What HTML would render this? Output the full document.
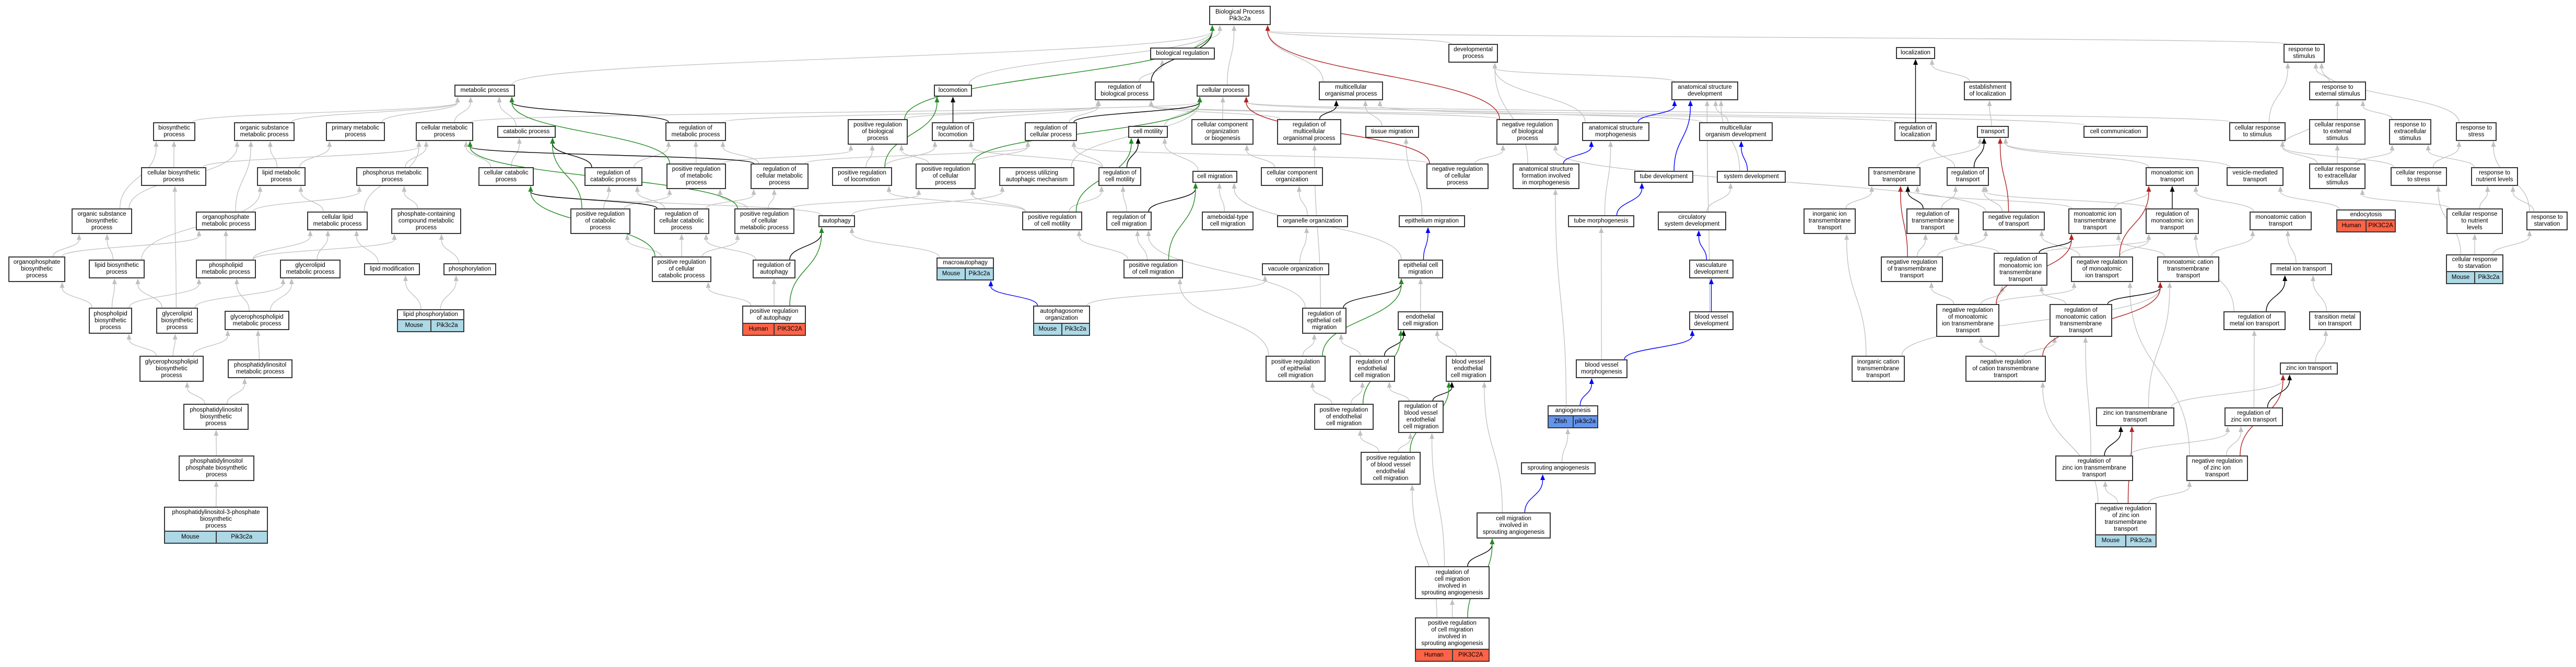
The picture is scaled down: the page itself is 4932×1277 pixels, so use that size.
<!DOCTYPE html>
<html><head><meta charset="utf-8">
<style>
html,body{margin:0;padding:0;background:#fff;}
#wrap{position:relative;width:4932px;height:1277px;overflow:hidden;background:#fff;font-family:"Liberation Sans",Arial,sans-serif;}
svg{position:absolute;left:0;top:0;}
.n{position:absolute;box-sizing:border-box;border:2px solid #383838;background:#fff;display:flex;align-items:center;justify-content:center;text-align:center;font-size:11.5px;line-height:13px;color:#000;white-space:nowrap;z-index:2;}
.s{flex-direction:column;align-items:stretch;}
.s .t{flex:1;display:flex;align-items:center;justify-content:center;}
.s .r{height:21px;display:flex;border-top:2px solid #383838;}
.s .r span{flex:1;display:flex;align-items:center;justify-content:center;}
.s .r span+span{border-left:2px solid #383838;}
.m{background:#add8e6;} .h{background:#ff6347;} .z{background:#6495ed;}
</style></head><body>
<div id="wrap">
<svg id="sv" width="4932" height="1277" viewBox="0 0 4932 1277"></svg>

<div class=n id=BP style="left:2315px;top:11px;width:118px;height:37px">Biological Process<br>Pik3c2a</div>
<div class=n id=BR style="left:2202px;top:91px;width:124px;height:23px">biological regulation</div>
<div class=n id=DEV style="left:2773px;top:84px;width:95px;height:36px">developmental<br>process</div>
<div class=n id=LOC style="left:3630px;top:90px;width:75px;height:23px">localization</div>
<div class=n id=RS style="left:4372px;top:84px;width:79px;height:36px">response to<br>stimulus</div>
<div class=n id=MP style="left:870px;top:162px;width:116px;height:23px">metabolic process</div>
<div class=n id=LCM style="left:1788px;top:162px;width:73px;height:23px">locomotion</div>
<div class=n id=RBP style="left:2096px;top:156px;width:114px;height:36px">regulation of<br>biological process</div>
<div class=n id=CP style="left:2291px;top:162px;width:101px;height:23px">cellular process</div>
<div class=n id=MOP style="left:2525px;top:156px;width:123px;height:36px">multicellular<br>organismal process</div>
<div class=n id=ASD style="left:3200px;top:156px;width:128px;height:36px">anatomical structure<br>development</div>
<div class=n id=EL style="left:3760px;top:156px;width:91px;height:36px">establishment<br>of localization</div>
<div class=n id=RES style="left:4421px;top:156px;width:109px;height:36px">response to<br>external stimulus</div>
<div class=n id=BSP style="left:293px;top:234px;width:81px;height:36px">biosynthetic<br>process</div>
<div class=n id=OSMP style="left:448px;top:234px;width:116px;height:36px">organic substance<br>metabolic process</div>
<div class=n id=PMP style="left:624px;top:234px;width:113px;height:36px">primary metabolic<br>process</div>
<div class=n id=CMP style="left:796px;top:234px;width:110px;height:36px">cellular metabolic<br>process</div>
<div class=n id=CAT style="left:952px;top:241px;width:112px;height:23px">catabolic process</div>
<div class=n id=RMP style="left:1274px;top:234px;width:116px;height:36px">regulation of<br>metabolic process</div>
<div class=n id=PRBP style="left:1623px;top:228px;width:115px;height:49px">positive regulation<br>of biological<br>process</div>
<div class=n id=RLOC style="left:1784px;top:234px;width:81px;height:36px">regulation of<br>locomotion</div>
<div class=n id=RCP style="left:1962px;top:234px;width:100px;height:36px">regulation of<br>cellular process</div>
<div class=n id=CMOT style="left:2160px;top:241px;width:76px;height:23px">cell motility</div>
<div class=n id=CCOB style="left:2281px;top:228px;width:119px;height:49px">cellular component<br>organization<br>or biogenesis</div>
<div class=n id=RMOP style="left:2445px;top:228px;width:123px;height:49px">regulation of<br>multicellular<br>organismal process</div>
<div class=n id=TM style="left:2614px;top:241px;width:103px;height:23px">tissue migration</div>
<div class=n id=NRBP style="left:2865px;top:228px;width:119px;height:49px">negative regulation<br>of biological<br>process</div>
<div class=n id=ASM style="left:3029px;top:234px;width:129px;height:36px">anatomical structure<br>morphogenesis</div>
<div class=n id=MOD style="left:3253px;top:234px;width:141px;height:36px">multicellular<br>organism development</div>
<div class=n id=RLZ style="left:3627px;top:234px;width:81px;height:36px">regulation of<br>localization</div>
<div class=n id=TR style="left:3785px;top:241px;width:61px;height:23px">transport</div>
<div class=n id=CC style="left:3989px;top:241px;width:123px;height:23px">cell communication</div>
<div class=n id=CRS style="left:4268px;top:234px;width:108px;height:36px">cellular response<br>to stimulus</div>
<div class=n id=CRES style="left:4421px;top:228px;width:108px;height:49px">cellular response<br>to external<br>stimulus</div>
<div class=n id=REXS style="left:4574px;top:228px;width:81px;height:49px">response to<br>extracellular<br>stimulus</div>
<div class=n id=RST style="left:4702px;top:234px;width:78px;height:36px">response to<br>stress</div>
<div class=n id=CBP style="left:270px;top:320px;width:125px;height:36px">cellular biosynthetic<br>process</div>
<div class=n id=LMP style="left:492px;top:320px;width:93px;height:36px">lipid metabolic<br>process</div>
<div class=n id=PHMP style="left:682px;top:320px;width:138px;height:36px">phosphorus metabolic<br>process</div>
<div class=n id=CCP style="left:916px;top:320px;width:106px;height:36px">cellular catabolic<br>process</div>
<div class=n id=RCAT style="left:1119px;top:320px;width:111px;height:36px">regulation of<br>catabolic process</div>
<div class=n id=PRMP style="left:1276px;top:313px;width:114px;height:49px">positive regulation<br>of metabolic<br>process</div>
<div class=n id=RCMP style="left:1437px;top:313px;width:111px;height:49px">regulation of<br>cellular metabolic<br>process</div>
<div class=n id=PRL style="left:1593px;top:320px;width:115px;height:36px">positive regulation<br>of locomotion</div>
<div class=n id=PRCP style="left:1753px;top:313px;width:115px;height:49px">positive regulation<br>of cellular<br>process</div>
<div class=n id=PUAM style="left:1913px;top:320px;width:144px;height:36px">process utilizing<br>autophagic mechanism</div>
<div class=n id=RCMOT style="left:2103px;top:320px;width:82px;height:36px">regulation of<br>cell motility</div>
<div class=n id=CMIG style="left:2283px;top:327px;width:86px;height:23px">cell migration</div>
<div class=n id=CCO style="left:2414px;top:320px;width:119px;height:36px">cellular component<br>organization</div>
<div class=n id=NRCP style="left:2731px;top:313px;width:119px;height:49px">negative regulation<br>of cellular<br>process</div>
<div class=n id=ASFM style="left:2896px;top:313px;width:128px;height:49px">anatomical structure<br>formation involved<br>in morphogenesis</div>
<div class=n id=TD style="left:3129px;top:327px;width:113px;height:23px">tube development</div>
<div class=n id=SD style="left:3287px;top:327px;width:132px;height:23px">system development</div>
<div class=n id=TMT style="left:3577px;top:320px;width:100px;height:36px">transmembrane<br>transport</div>
<div class=n id=RTR style="left:3727px;top:320px;width:81px;height:36px">regulation of<br>transport</div>
<div class=n id=MIT style="left:4108px;top:320px;width:102px;height:36px">monoatomic ion<br>transport</div>
<div class=n id=VMT style="left:4263px;top:320px;width:109px;height:36px">vesicle-mediated<br>transport</div>
<div class=n id=CREXS style="left:4421px;top:313px;width:108px;height:49px">cellular response<br>to extracellular<br>stimulus</div>
<div class=n id=CRST style="left:4577px;top:320px;width:108px;height:36px">cellular response<br>to stress</div>
<div class=n id=RNL style="left:4731px;top:320px;width:90px;height:36px">response to<br>nutrient levels</div>
<div class=n id=OSBP style="left:137px;top:399px;width:116px;height:49px">organic substance<br>biosynthetic<br>process</div>
<div class=n id=OPMP style="left:375px;top:405px;width:115px;height:36px">organophosphate<br>metabolic process</div>
<div class=n id=CLMP style="left:588px;top:405px;width:116px;height:36px">cellular lipid<br>metabolic process</div>
<div class=n id=PCCMP style="left:749px;top:399px;width:134px;height:49px">phosphate-containing<br>compound metabolic<br>process</div>
<div class=n id=PRCAT style="left:1092px;top:399px;width:115px;height:49px">positive regulation<br>of catabolic<br>process</div>
<div class=n id=RCCP style="left:1252px;top:399px;width:106px;height:49px">regulation of<br>cellular catabolic<br>process</div>
<div class=n id=PRCMP style="left:1406px;top:399px;width:115px;height:49px">positive regulation<br>of cellular<br>metabolic process</div>
<div class=n id=AUT style="left:1567px;top:412px;width:70px;height:23px">autophagy</div>
<div class=n id=PRCMOT style="left:1957px;top:405px;width:115px;height:36px">positive regulation<br>of cell motility</div>
<div class=n id=RCMIG style="left:2118px;top:405px;width:87px;height:36px">regulation of<br>cell migration</div>
<div class=n id=AMB style="left:2301px;top:405px;width:99px;height:36px">ameboidal-type<br>cell migration</div>
<div class=n id=OO style="left:2445px;top:412px;width:136px;height:23px">organelle organization</div>
<div class=n id=EM style="left:2678px;top:412px;width:127px;height:23px">epithelium migration</div>
<div class=n id=TMO style="left:3002px;top:412px;width:127px;height:23px">tube morphogenesis</div>
<div class=n id=CSD style="left:3174px;top:405px;width:131px;height:36px">circulatory<br>system development</div>
<div class=n id=IITT style="left:3453px;top:399px;width:100px;height:49px">inorganic ion<br>transmembrane<br>transport</div>
<div class=n id=RTMT style="left:3650px;top:399px;width:101px;height:49px">regulation of<br>transmembrane<br>transport</div>
<div class=n id=NRTR style="left:3796px;top:405px;width:119px;height:36px">negative regulation<br>of transport</div>
<div class=n id=MITT style="left:3960px;top:399px;width:102px;height:49px">monoatomic ion<br>transmembrane<br>transport</div>
<div class=n id=RMIT style="left:4108px;top:399px;width:102px;height:49px">regulation of<br>monoatomic ion<br>transport</div>
<div class=n id=MCT style="left:4307px;top:405px;width:119px;height:36px">monoatomic cation<br>transport</div>
<div class="n s" id=ENDO style="left:4473px;top:401px;width:114px;height:44px"><div class=t>endocytosis</div><div class="r h"><span>Human</span><span>PIK3C2A</span></div></div>
<div class=n id=CRNL style="left:4684px;top:399px;width:108px;height:49px">cellular response<br>to nutrient<br>levels</div>
<div class=n id=RSTV style="left:4837px;top:405px;width:79px;height:36px">response to<br>starvation</div>
<div class=n id=OPBP style="left:16px;top:491px;width:109px;height:49px">organophosphate<br>biosynthetic<br>process</div>
<div class=n id=LBP style="left:170px;top:497px;width:107px;height:36px">lipid biosynthetic<br>process</div>
<div class=n id=PLMP style="left:375px;top:497px;width:115px;height:36px">phospholipid<br>metabolic process</div>
<div class=n id=GLMP style="left:536px;top:497px;width:116px;height:36px">glycerolipid<br>metabolic process</div>
<div class=n id=LMOD style="left:697px;top:504px;width:107px;height:23px">lipid modification</div>
<div class=n id=PHOS style="left:849px;top:504px;width:101px;height:23px">phosphorylation</div>
<div class=n id=PRCCP style="left:1248px;top:491px;width:114px;height:49px">positive regulation<br>of cellular<br>catabolic process</div>
<div class=n id=RAUT style="left:1441px;top:497px;width:82px;height:36px">regulation of<br>autophagy</div>
<div class="n s" id=MACRO style="left:1793px;top:493px;width:110px;height:44px"><div class=t>macroautophagy</div><div class="r m"><span>Mouse</span><span>Pik3c2a</span></div></div>
<div class=n id=PRCMIG style="left:2151px;top:497px;width:114px;height:36px">positive regulation<br>of cell migration</div>
<div class=n id=VO style="left:2416px;top:504px;width:129px;height:23px">vacuole organization</div>
<div class=n id=ECM style="left:2677px;top:497px;width:86px;height:36px">epithelial cell<br>migration</div>
<div class=n id=VD style="left:3234px;top:497px;width:85px;height:36px">vasculature<br>development</div>
<div class=n id=NRTMT style="left:3601px;top:491px;width:119px;height:49px">negative regulation<br>of transmembrane<br>transport</div>
<div class=n id=RMITT style="left:3817px;top:484px;width:103px;height:63px">regulation of<br>monoatomic ion<br>transmembrane<br>transport</div>
<div class=n id=NRMIT style="left:3965px;top:491px;width:119px;height:49px">negative regulation<br>of monoatomic<br>ion transport</div>
<div class=n id=MCTT style="left:4130px;top:491px;width:119px;height:49px">monoatomic cation<br>transmembrane<br>transport</div>
<div class=n id=MIT2 style="left:4347px;top:504px;width:118px;height:23px">metal ion transport</div>
<div class="n s" id=CRSTV style="left:4683px;top:487px;width:110px;height:57px"><div class=t>cellular response<br>to starvation</div><div class="r m"><span>Mouse</span><span>Pik3c2a</span></div></div>
<div class=n id=PLBP style="left:170px;top:589px;width:83px;height:50px">phospholipid<br>biosynthetic<br>process</div>
<div class=n id=GLBP style="left:299px;top:589px;width:80px;height:50px">glycerolipid<br>biosynthetic<br>process</div>
<div class=n id=GPLMP style="left:430px;top:595px;width:124px;height:37px">glycerophospholipid<br>metabolic process</div>
<div class="n s" id=LPHOS style="left:760px;top:592px;width:129px;height:44px"><div class=t>lipid phosphorylation</div><div class="r m"><span>Mouse</span><span>Pik3c2a</span></div></div>
<div class="n s" id=PRAUT style="left:1421px;top:585px;width:122px;height:58px"><div class=t>positive regulation<br>of autophagy</div><div class="r h"><span>Human</span><span>PIK3C2A</span></div></div>
<div class="n s" id=AUTO style="left:1978px;top:585px;width:109px;height:58px"><div class=t>autophagosome<br>organization</div><div class="r m"><span>Mouse</span><span>Pik3c2a</span></div></div>
<div class=n id=RECM style="left:2493px;top:589px;width:85px;height:50px">regulation of<br>epithelial cell<br>migration</div>
<div class=n id=ENCM style="left:2676px;top:596px;width:87px;height:36px">endothelial<br>cell migration</div>
<div class=n id=BVD style="left:3234px;top:596px;width:85px;height:36px">blood vessel<br>development</div>
<div class=n id=NRMITT style="left:3707px;top:582px;width:121px;height:63px">negative regulation<br>of monoatomic<br>ion transmembrane<br>transport</div>
<div class=n id=RMCTT style="left:3924px;top:582px;width:120px;height:63px">regulation of<br>monoatomic cation<br>transmembrane<br>transport</div>
<div class=n id=RMETT style="left:4257px;top:596px;width:119px;height:36px">regulation of<br>metal ion transport</div>
<div class=n id=TMIT style="left:4421px;top:596px;width:99px;height:36px">transition metal<br>ion transport</div>
<div class=n id=GPLBP style="left:267px;top:681px;width:123px;height:50px">glycerophospholipid<br>biosynthetic<br>process</div>
<div class=n id=PIMP style="left:436px;top:688px;width:124px;height:36px">phosphatidylinositol<br>metabolic process</div>
<div class=n id=PRECM style="left:2423px;top:681px;width:115px;height:50px">positive regulation<br>of epithelial<br>cell migration</div>
<div class=n id=RENCM style="left:2584px;top:681px;width:87px;height:50px">regulation of<br>endothelial<br>cell migration</div>
<div class=n id=BVECM style="left:2768px;top:681px;width:87px;height:50px">blood vessel<br>endothelial<br>cell migration</div>
<div class=n id=BVM style="left:3017px;top:688px;width:99px;height:36px">blood vessel<br>morphogenesis</div>
<div class=n id=ICTT style="left:3545px;top:681px;width:102px;height:50px">inorganic cation<br>transmembrane<br>transport</div>
<div class=n id=NRCTT style="left:3763px;top:681px;width:154px;height:50px">negative regulation<br>of cation transmembrane<br>transport</div>
<div class=n id=ZIT style="left:4365px;top:694px;width:111px;height:23px">zinc ion transport</div>
<div class=n id=PIBP style="left:351px;top:773px;width:125px;height:50px">phosphatidylinositol<br>biosynthetic<br>process</div>
<div class=n id=PRENCM style="left:2516px;top:773px;width:114px;height:50px">positive regulation<br>of endothelial<br>cell migration</div>
<div class=n id=RBVECM style="left:2677px;top:767px;width:87px;height:62px">regulation of<br>blood vessel<br>endothelial<br>cell migration</div>
<div class="n s" id=ANG style="left:2963px;top:776px;width:97px;height:44px"><div class=t>angiogenesis</div><div class="r z"><span>Zfish</span><span>pik3c2a</span></div></div>
<div class=n id=ZITT style="left:4013px;top:780px;width:150px;height:36px">zinc ion transmembrane<br>transport</div>
<div class=n id=RZIT style="left:4259px;top:780px;width:112px;height:36px">regulation of<br>zinc ion transport</div>
<div class=n id=PRBVECM style="left:2605px;top:865px;width:115px;height:63px">positive regulation<br>of blood vessel<br>endothelial<br>cell migration</div>
<div class=n id=RZITT style="left:3935px;top:872px;width:149px;height:49px">regulation of<br>zinc ion transmembrane<br>transport</div>
<div class=n id=NRZIT style="left:4186px;top:872px;width:118px;height:49px">negative regulation<br>of zinc ion<br>transport</div>
<div class=n id=PIPBP style="left:342px;top:872px;width:145px;height:49px">phosphatidylinositol<br>phosphate biosynthetic<br>process</div>
<div class=n id=SPA style="left:2912px;top:885px;width:143px;height:23px">sprouting angiogenesis</div>
<div class="n s" id=NRZITT style="left:4011px;top:963px;width:118px;height:85px"><div class=t>negative regulation<br>of zinc ion<br>transmembrane<br>transport</div><div class="r m"><span>Mouse</span><span>Pik3c2a</span></div></div>
<div class="n s" id=PI3P style="left:314px;top:970px;width:199px;height:71px"><div class=t>phosphatidylinositol-3-phosphate<br>biosynthetic<br>process</div><div class="r m"><span>Mouse</span><span>Pik3c2a</span></div></div>
<div class=n id=CMISA style="left:2827px;top:981px;width:142px;height:50px">cell migration<br>involved in<br>sprouting angiogenesis</div>
<div class=n id=RCMISA style="left:2709px;top:1084px;width:143px;height:63px">regulation of<br>cell migration<br>involved in<br>sprouting angiogenesis</div>
<div class="n s" id=PRCMISA style="left:2709px;top:1182px;width:143px;height:85px"><div class=t>positive regulation<br>of cell migration<br>involved in<br>sprouting angiogenesis</div><div class="r h"><span>Human</span><span>PIK3C2A</span></div></div>
</div>

<script>
(function(){
var G="BSP>MP OSMP>MP PMP>MP CMP>MP CMP>CP MP>BP CBP>BSP CBP>CMP OSBP>BSP OSBP>OSMP OPMP>OSMP OPMP>PHMP LMP>OSMP LMP>PMP PHMP>CMP CLMP>LMP CLMP>CMP PCCMP>PHMP OPBP>OSBP OPBP>OPMP LBP>OSBP LBP>LMP PLMP>OPMP PLMP>CLMP PLMP>PCCMP GLMP>CLMP LMOD>CLMP PLBP>OPBP PLBP>LBP PLBP>PLMP GLBP>LBP GLBP>CBP GLBP>GLMP GPLMP>PLMP GPLMP>GLMP LPHOS>LMOD LPHOS>PHOS PHOS>PCCMP GPLBP>PLBP GPLBP>GLBP GPLBP>GPLMP PIMP>GPLMP PIBP>GPLBP PIBP>PIMP PIPBP>PIBP PI3P>PIPBP "+
"CAT>MP RMP>RBP CCP>CMP CCP>CAT RCAT>RMP PRMP>RMP PRMP>PRBP RCMP>RMP RCMP>RCP PRCAT>RCAT PRCAT>PRMP RCCP>RCAT RCCP>RCMP PRCMP>PRMP PRCMP>RCMP PRCMP>PRCP PRCCP>PRCAT PRCCP>RCCP PRCCP>PRCMP RAUT>RCCP AUT>CCP AUT>PUAM PRAUT>RAUT PRAUT>PRCCP "+
"BR>BP CP>BP LCM>BP RBP>BR RLOC>RBP PRBP>RBP PRL>PRBP PRL>RLOC RCP>RBP PRCP>RCP PRCP>PRBP CMOT>CP CCOB>CP PUAM>CP RCMOT>RCP RCMOT>RLOC CMIG>CMOT PRCMOT>RCMOT PRCMOT>PRCP PRCMOT>PRL RCMIG>RCMOT AMB>CMIG PRCMIG>RCMIG PRCMIG>PRCMOT MACRO>AUT AUTO>VO CCO>CCOB "+
"DEV>BP MOP>BP RMOP>RBP TM>MOP NRBP>RBP NRCP>NRBP NRCP>RCP ASM>DEV ASFM>DEV TMO>ASM OO>CCO VO>OO EM>TM ECM>CMIG RECM>RCMIG RECM>RMOP ENCM>ECM CSD>SD "+
"ASD>DEV MOD>ASD MOD>MOP SD>ASD RLZ>RBP EL>LOC TR>EL CC>CP TMT>TR RTR>RLZ IITT>TMT RTMT>RTR NRTR>RTR NRTR>NRBP MITT>TMT MITT>MIT NRTMT>RTMT NRTMT>NRTR RMITT>RTMT RMITT>RMIT NRMIT>NRTR NRMIT>RMIT NRMITT>NRTMT NRMITT>RMITT NRMITT>NRMIT RMCTT>RMITT SPA>ANG BVD>ASD "+
"RS>BP RES>RS CRS>RS CRS>CP RST>RS CRES>RES CRES>CRS REXS>RES CREXS>CRES CREXS>REXS CREXS>CRS CRST>CRS CRST>RST RNL>REXS MIT>TR VMT>TR RMIT>RTR MCT>MIT MCTT>MCT MCTT>MITT ENDO>VMT CRNL>CREXS CRNL>RNL RSTV>RNL RSTV>RST CRSTV>CRNL CRSTV>RSTV CRSTV>CRST MIT2>MCT RMETT>RMIT TMIT>MIT2 NRCTT>NRMITT NRCTT>RMCTT ICTT>IITT ICTT>MCTT "+
"ZIT>TMIT ZITT>ZIT ZITT>MCTT RZIT>RMETT RZITT>RZIT RZITT>RMCTT NRZIT>RZIT NRZIT>NRMIT NRZITT>RZITT NRZITT>NRZIT NRZITT>NRCTT "+
"PRECM>RECM PRECM>PRCMIG RENCM>RECM BVECM>ENCM PRENCM>PRECM PRENCM>RENCM RBVECM>RENCM PRBVECM>PRENCM PRBVECM>RBVECM CMISA>BVECM RCMISA>RBVECM PRCMISA>RCMISA PRCMISA>PRBVECM ANG>ASFM BVM>TMO";
var K="RMP>MP RCAT>CAT RCMP>CMP RCCP>CCP RAUT>AUT RBP>BP RLOC>LCM RCP>CP RCMOT>CMOT RCMIG>CMIG RMOP>MOP RECM>ECM RLZ>LOC RTR>TR RTMT>TMT RMITT>MITT RMCTT>MCTT RMIT>MIT RMETT>MIT2 RZIT>ZIT RZITT>ZITT RENCM>ENCM RBVECM>BVECM RCMISA>CMISA";
var GR="PRMP>MP PRCAT>CAT PRCMP>CMP PRCCP>CCP PRAUT>AUT PRBP>BP PRL>LCM PRCP>CP PRCMOT>CMOT PRCMIG>CMIG PRECM>ECM PRENCM>ENCM PRBVECM>BVECM PRCMISA>CMISA";
var R="NRBP>BP NRCP>CP NRTR>TR NRTMT>TMT NRMITT>MITT NRMIT>MIT NRCTT>MCTT NRZIT>ZIT NRZITT>ZITT";
var B="ASM>ASD ASFM>ASM TD>ASD TMO>TD SD>MOD ECM>EM AUTO>MACRO VD>CSD BVD>VD BVM>BVD ANG>BVM CMISA>SPA";
var sv=document.getElementById('sv'),ns="http://www.w3.org/2000/svg";
function box(id){var e=document.getElementById(id);if(!e)return null;return {x:e.offsetLeft,y:e.offsetTop,w:e.offsetWidth,h:e.offsetHeight};}
function cl(v,a,b){return Math.max(a,Math.min(b,v));}
var out="";
function draw(list,col,sw){
 list.split(/\s+/).forEach(function(p){
  if(!p)return;var a=p.split('>'),c=box(a[0]),q=box(a[1]);if(!c||!q)return;
  var ccx=c.x+c.w/2,pcx=q.x+q.w/2;
  var sx=cl(ccx+(pcx-ccx)*0.25,c.x+6,c.x+c.w-6),sy=c.y;
  var ex=cl(pcx+(ccx-pcx)*0.35,q.x+6,q.x+q.w-6),ey=q.y+q.h;
  var al=11,ey2=ey+al;
  var my=(sy+ey2)/2;
  out+='<path d="M'+sx.toFixed(1)+' '+sy+' C'+sx.toFixed(1)+' '+my.toFixed(1)+' '+ex.toFixed(1)+' '+my.toFixed(1)+' '+ex.toFixed(1)+' '+ey2+'" fill="none" stroke="'+col+'" stroke-width="'+sw+'"/>';
  out+='<polygon points="'+ex.toFixed(1)+','+ey+' '+(ex-4.5).toFixed(1)+','+ey2+' '+(ex+4.5).toFixed(1)+','+ey2+'" fill="'+col+'"/>';
 });
}
draw(G,"#c0c0c0",1.3);
draw(K,"#000000",1.4);
draw(GR,"#228b22",1.4);
draw(R,"#b22222",1.4);
draw(B,"#0000ff",1.4);
sv.innerHTML=out;
})();
</script>
</body></html>
